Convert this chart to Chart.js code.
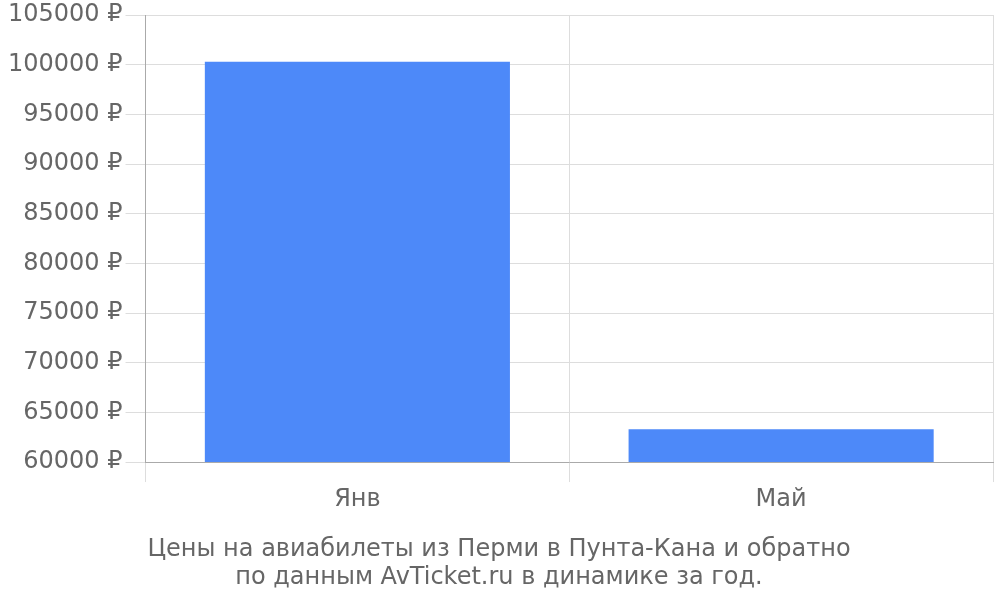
<!DOCTYPE html>
<html>
<head>
<meta charset="utf-8">
<script src="https://cdn.jsdelivr.net/npm/chart.js@4"></script>
<style>
  html, body { margin: 0; padding: 0; background: #fff; }
  #wrap { width: 1000px; height: 600px; }
</style>
</head>
<body>
<div id="wrap"><canvas id="myChart"></canvas></div>
<script>
const categories = ['Янв', 'Май'];
const prices = [100300, 63300];
const titleLines = ['Цены на авиабилеты из Перми в Пунта-Кана и обратно', 'по данным AvTicket.ru в динамике за год.'];

Chart.defaults.font.family = '"DejaVu Sans", sans-serif';
Chart.defaults.color = '#666';

const ctx = document.getElementById('myChart').getContext('2d');
const myChart = new Chart(ctx, {
    type: 'bar',
    data: {
        labels: categories,
        datasets: [{
            label: 'Цена',
            data: prices,
            backgroundColor: '#4d89f9',
            borderWidth: 0,
        }]
    },
    options: {
        responsive: true,
        maintainAspectRatio: false,
        animation: false,
        layout: { padding: { left: 5, right: 7, top: 0, bottom: 8 } },
        plugins: {
            legend: { display: false },
            tooltip: { enabled: false },
            title: {
                display: true,
                position: 'bottom',
                text: titleLines,
                color: '#666',
                font: { size: 24, weight: 'normal', lineHeight: 1.17 },
                padding: { top: 19, bottom: 0 }
            }
        },
        scales: {
            x: {
                grid: { color: '#ddd', tickLength: 20 },
                border: { color: '#aaa' },
                ticks: { font: { size: 24 }, padding: 3 }
            },
            y: {
                min: 60000,
                max: 105000,
                grid: { color: '#ddd', tickLength: 20 },
                border: { color: '#aaa' },
                ticks: {
                    stepSize: 5000,
                    font: { size: 24, lineHeight: 1.0 },
                    padding: 3,
                    callback: v => v + ' ₽'
                }
            }
        }
    }
});
</script>
</body>
</html>
